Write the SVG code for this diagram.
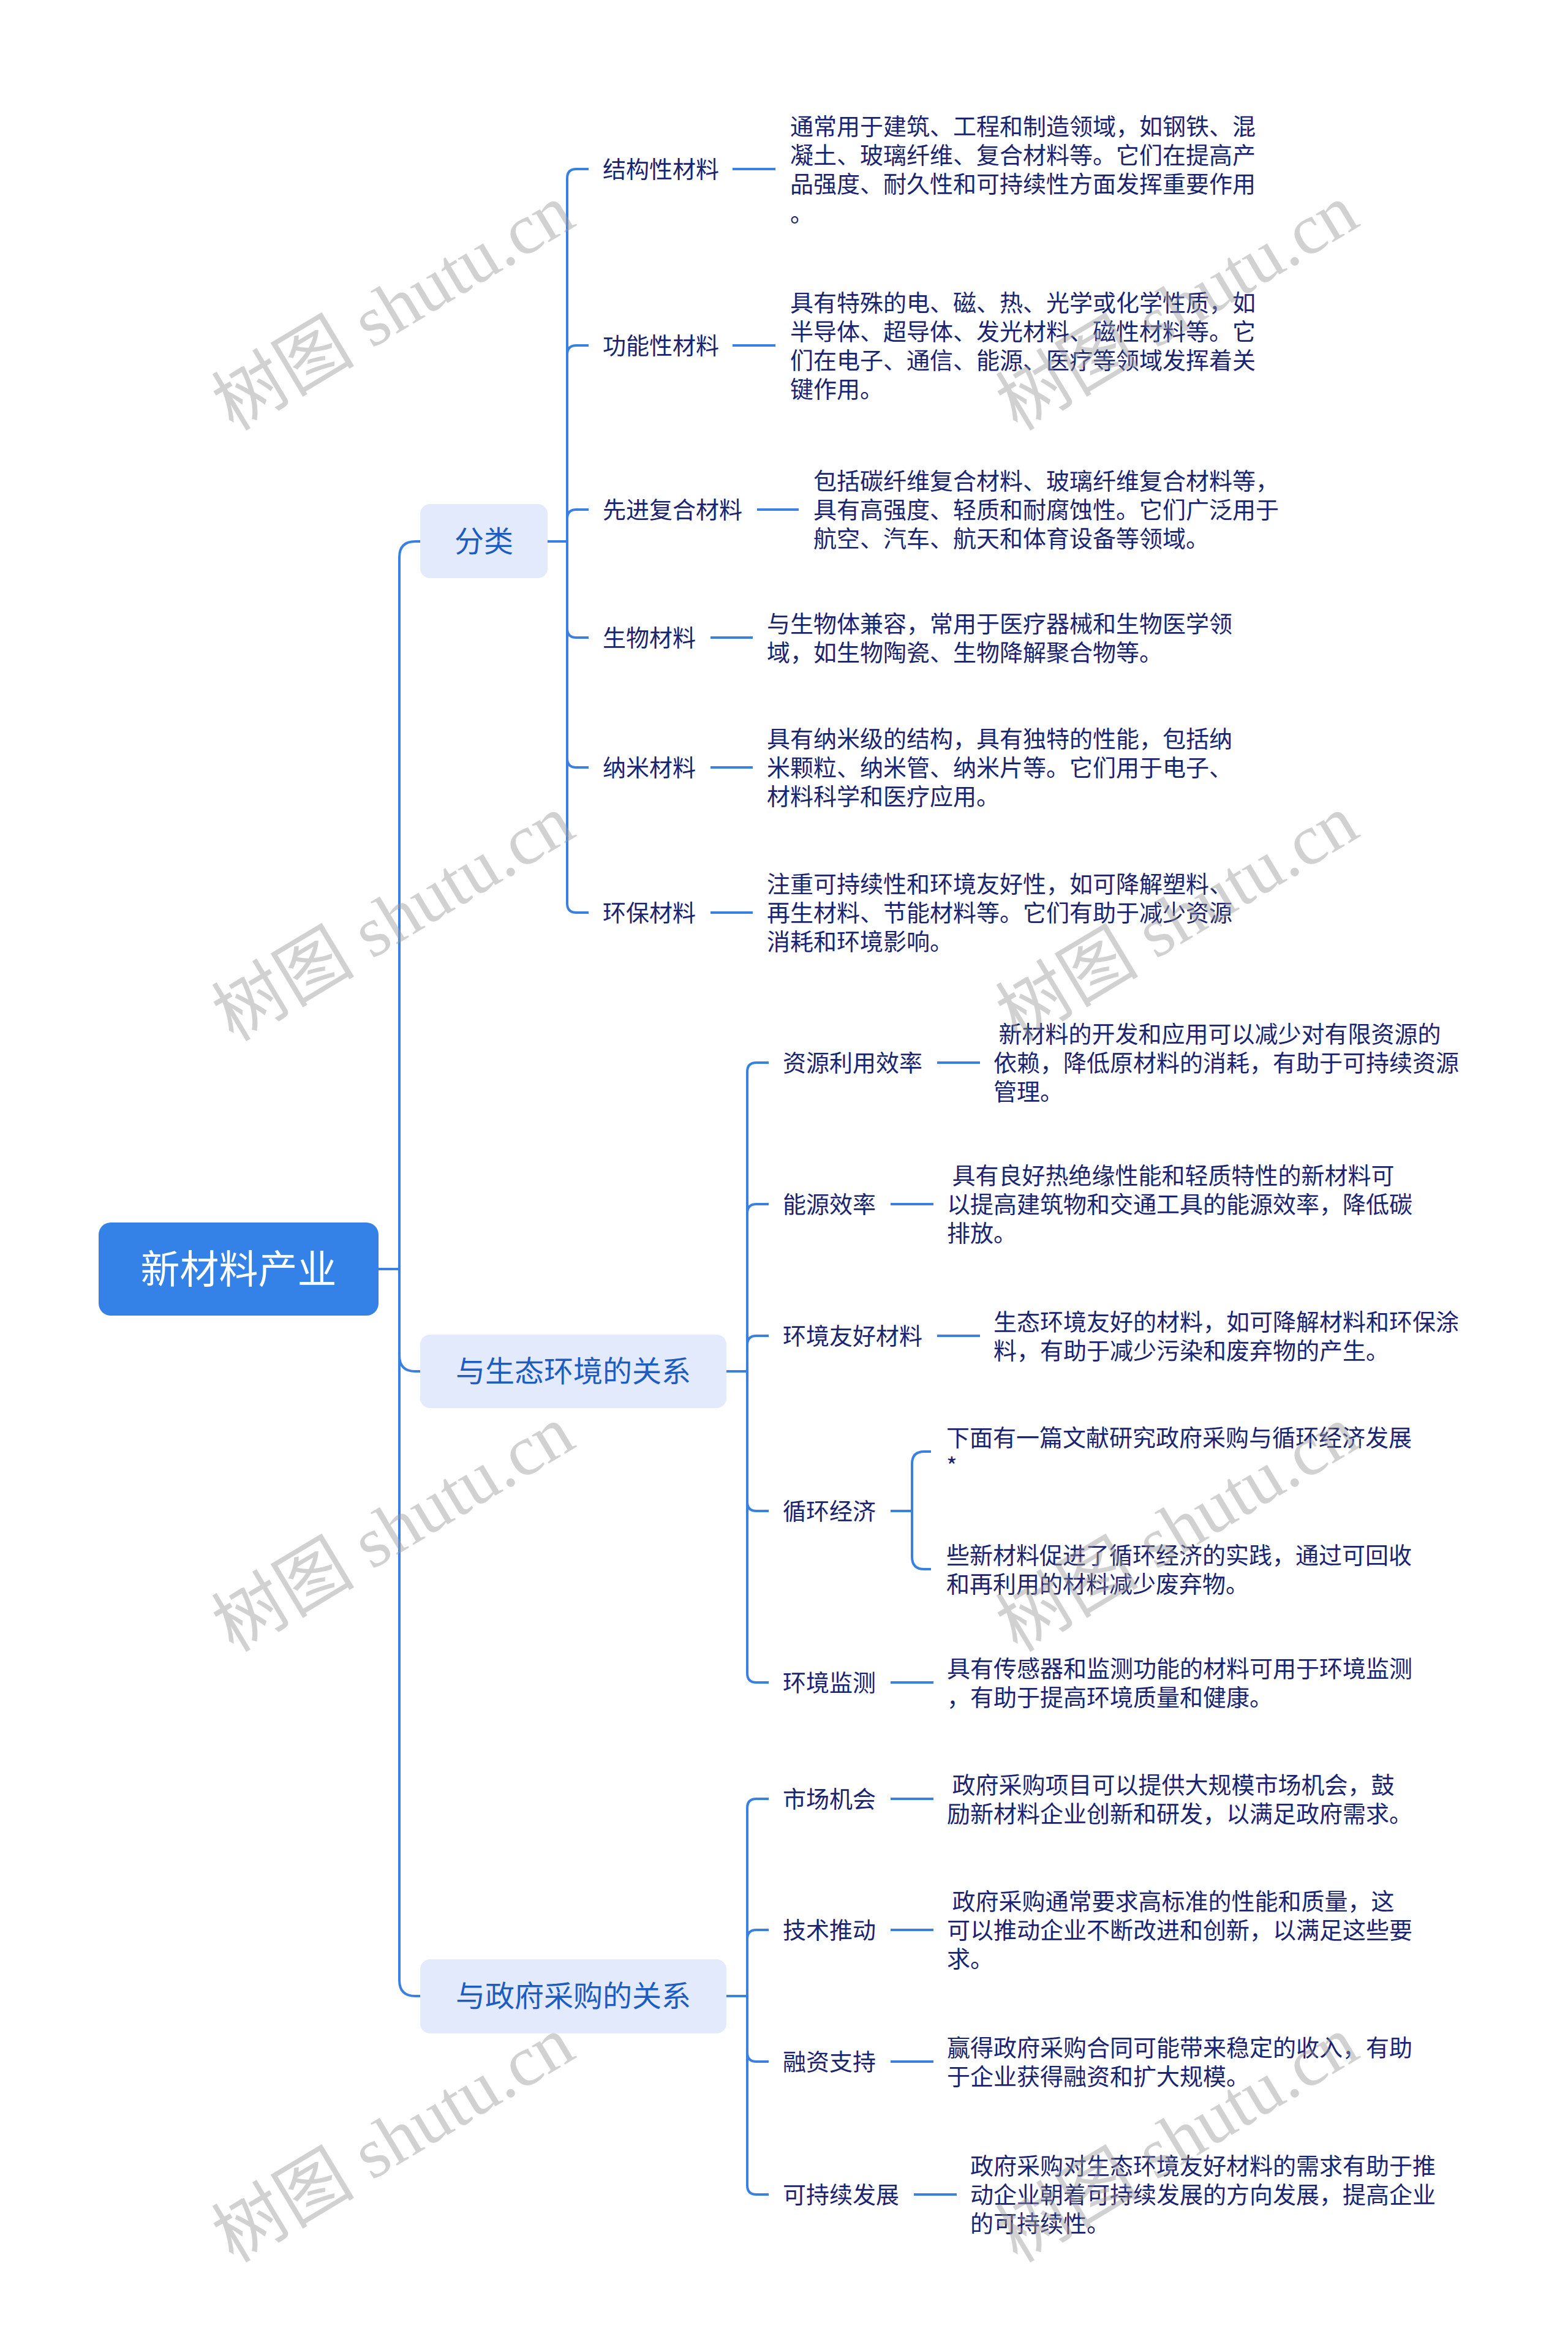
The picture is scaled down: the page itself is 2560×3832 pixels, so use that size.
<svg xmlns="http://www.w3.org/2000/svg" width="2560" height="3832" viewBox="0 0 2560 3832">
<style>
text{font-family:"Noto Sans CJK SC","Noto Sans",sans-serif}
.ln{fill:none;stroke:#3a80e3;stroke-width:4}
.lb{font-size:38px;fill:#1a2470}
.lf{font-size:38px;fill:#1a2470}
.bx{fill:#e2eafb}
.bt{font-size:48px;fill:#1d5cc0;text-anchor:middle}
.rt{font-size:64px;fill:#ffffff;text-anchor:middle}
.wm{font-family:"Liberation Serif","Noto Sans CJK SC",serif;font-size:117px;fill:#999999;fill-opacity:0.45}
</style>
<rect width="2560" height="3832" fill="#ffffff"/>
<g id="connectors">
<path class="ln" d="M618 2072 H652 V910 Q652 884 678 884 H686"/>
<path class="ln" d="M618 2072 H652 V2213 Q652 2239 678 2239 H686"/>
<path class="ln" d="M618 2072 H652 V3233 Q652 3259 678 3259 H686"/>
<path class="ln" d="M894 884 H926 V291 Q926 276 941 276 H961"/>
<path class="ln" d="M894 884 H926 V579 Q926 564 941 564 H961"/>
<path class="ln" d="M894 884 H926 V847 Q926 832 941 832 H961"/>
<path class="ln" d="M894 884 H926 V1026 Q926 1041 941 1041 H961"/>
<path class="ln" d="M894 884 H926 V1238 Q926 1253 941 1253 H961"/>
<path class="ln" d="M894 884 H926 V1475 Q926 1490 941 1490 H961"/>
<path class="ln" d="M1196 276 H1266"/>
<path class="ln" d="M1196 564 H1266"/>
<path class="ln" d="M1236 832 H1304"/>
<path class="ln" d="M1160 1041 H1229"/>
<path class="ln" d="M1160 1253 H1229"/>
<path class="ln" d="M1160 1490 H1229"/>
<path class="ln" d="M1186 2239 H1220 V1750 Q1220 1735 1235 1735 H1255"/>
<path class="ln" d="M1186 2239 H1220 V1981 Q1220 1966 1235 1966 H1255"/>
<path class="ln" d="M1186 2239 H1220 V2196 Q1220 2181 1235 2181 H1255"/>
<path class="ln" d="M1186 2239 H1220 V2452 Q1220 2467 1235 2467 H1255"/>
<path class="ln" d="M1186 2239 H1220 V2732 Q1220 2747 1235 2747 H1255"/>
<path class="ln" d="M1530 1735 H1600"/>
<path class="ln" d="M1454 1966 H1524"/>
<path class="ln" d="M1530 2181 H1600"/>
<path class="ln" d="M1454 2467 H1489 V2390 Q1489 2370 1509 2370 H1520"/>
<path class="ln" d="M1454 2467 H1489 V2542 Q1489 2562 1509 2562 H1520"/>
<path class="ln" d="M1454 2747 H1524"/>
<path class="ln" d="M1186 3259 H1220 V2952 Q1220 2937 1235 2937 H1255"/>
<path class="ln" d="M1186 3259 H1220 V3166 Q1220 3151 1235 3151 H1255"/>
<path class="ln" d="M1186 3259 H1220 V3351 Q1220 3366 1235 3366 H1255"/>
<path class="ln" d="M1186 3259 H1220 V3568 Q1220 3583 1235 3583 H1255"/>
<path class="ln" d="M1454 2937 H1524"/>
<path class="ln" d="M1454 3151 H1524"/>
<path class="ln" d="M1454 3366 H1524"/>
<path class="ln" d="M1492 3583 H1562"/>
</g>
<g id="root">
<rect x="161" y="1996" width="457" height="152" rx="20" fill="#3481e8"/>
<text class="rt" x="389.5" y="2095">新材料产业</text>
</g>
<g id="branch-fenlei">
<rect class="bx" x="686" y="823" width="208" height="121" rx="16"/>
<text class="bt" x="790" y="901">分类</text>
</g>
<g id="branch-shengtai">
<rect class="bx" x="686" y="2179" width="500" height="120" rx="16"/>
<text class="bt" x="936" y="2256">与生态环境的关系</text>
</g>
<g id="branch-zhengfu">
<rect class="bx" x="686" y="3199" width="500" height="121" rx="16"/>
<text class="bt" x="936" y="3276">与政府采购的关系</text>
</g>
<g id="n-jiegou">
<text class="lb" x="984" y="290">结构性材料</text>
<text class="lf"><tspan x="1290" y="219.5">通常用于建筑、工程和制造领域，如钢铁、混</tspan><tspan x="1290" y="266.5">凝土、玻璃纤维、复合材料等。它们在提高产</tspan><tspan x="1290" y="313.5">品强度、耐久性和可持续性方面发挥重要作用</tspan><tspan x="1290" y="362">。</tspan></text>
</g>
<g id="n-gongneng">
<text class="lb" x="984" y="578">功能性材料</text>
<text class="lf"><tspan x="1290" y="507.5">具有特殊的电、磁、热、光学或化学性质，如</tspan><tspan x="1290" y="554.5">半导体、超导体、发光材料、磁性材料等。它</tspan><tspan x="1290" y="601.5">们在电子、通信、能源、医疗等领域发挥着关</tspan><tspan x="1290" y="648.5">键作用。</tspan></text>
</g>
<g id="n-xianjin">
<text class="lb" x="984" y="846">先进复合材料</text>
<text class="lf"><tspan x="1328" y="799">包括碳纤维复合材料、玻璃纤维复合材料等，</tspan><tspan x="1328" y="846">具有高强度、轻质和耐腐蚀性。它们广泛用于</tspan><tspan x="1328" y="893">航空、汽车、航天和体育设备等领域。</tspan></text>
</g>
<g id="n-shengwu">
<text class="lb" x="984" y="1055">生物材料</text>
<text class="lf"><tspan x="1252" y="1031.5">与生物体兼容，常用于医疗器械和生物医学领</tspan><tspan x="1252" y="1078.5">域，如生物陶瓷、生物降解聚合物等。</tspan></text>
</g>
<g id="n-nami">
<text class="lb" x="984" y="1267">纳米材料</text>
<text class="lf"><tspan x="1252" y="1220">具有纳米级的结构，具有独特的性能，包括纳</tspan><tspan x="1252" y="1267">米颗粒、纳米管、纳米片等。它们用于电子、</tspan><tspan x="1252" y="1314">材料科学和医疗应用。</tspan></text>
</g>
<g id="n-huanbao">
<text class="lb" x="984" y="1504">环保材料</text>
<text class="lf"><tspan x="1252" y="1457">注重可持续性和环境友好性，如可降解塑料、</tspan><tspan x="1252" y="1504">再生材料、节能材料等。它们有助于减少资源</tspan><tspan x="1252" y="1551">消耗和环境影响。</tspan></text>
</g>
<g id="n-ziyuan">
<text class="lb" x="1278" y="1749">资源利用效率</text>
<text class="lf" xml:space="preserve"><tspan x="1622" y="1702"> 新材料的开发和应用可以减少对有限资源的</tspan><tspan x="1622" y="1749">依赖，降低原材料的消耗，有助于可持续资源</tspan><tspan x="1622" y="1796">管理。</tspan></text>
</g>
<g id="n-nengyuan">
<text class="lb" x="1278" y="1980">能源效率</text>
<text class="lf" xml:space="preserve"><tspan x="1546" y="1933"> 具有良好热绝缘性能和轻质特性的新材料可</tspan><tspan x="1546" y="1980">以提高建筑物和交通工具的能源效率，降低碳</tspan><tspan x="1546" y="2027">排放。</tspan></text>
</g>
<g id="n-youhao">
<text class="lb" x="1278" y="2195">环境友好材料</text>
<text class="lf"><tspan x="1622" y="2171.5">生态环境友好的材料，如可降解材料和环保涂</tspan><tspan x="1622" y="2218.5">料，有助于减少污染和废弃物的产生。</tspan></text>
</g>
<g id="n-xunhuan">
<text class="lb" x="1278" y="2481">循环经济</text>
</g>
<g id="n-xunhuan-a">
<text class="lf"><tspan x="1545" y="2360.5">下面有一篇文献研究政府采购与循环经济发展</tspan><tspan x="1545" y="2407.5">*</tspan></text>
</g>
<g id="n-xunhuan-b">
<text class="lf"><tspan x="1545" y="2552.5">些新材料促进了循环经济的实践，通过可回收</tspan><tspan x="1545" y="2599.5">和再利用的材料减少废弃物。</tspan></text>
</g>
<g id="n-jiance">
<text class="lb" x="1278" y="2761">环境监测</text>
<text class="lf"><tspan x="1546" y="2737.5">具有传感器和监测功能的材料可用于环境监测</tspan><tspan x="1546" y="2784.5">，有助于提高环境质量和健康。</tspan></text>
</g>
<g id="n-shichang">
<text class="lb" x="1278" y="2951">市场机会</text>
<text class="lf" xml:space="preserve"><tspan x="1546" y="2927.5"> 政府采购项目可以提供大规模市场机会，鼓</tspan><tspan x="1546" y="2974.5">励新材料企业创新和研发，以满足政府需求。</tspan></text>
</g>
<g id="n-jishu">
<text class="lb" x="1278" y="3165">技术推动</text>
<text class="lf" xml:space="preserve"><tspan x="1546" y="3118"> 政府采购通常要求高标准的性能和质量，这</tspan><tspan x="1546" y="3165">可以推动企业不断改进和创新，以满足这些要</tspan><tspan x="1546" y="3212">求。</tspan></text>
</g>
<g id="n-rongzi">
<text class="lb" x="1278" y="3380">融资支持</text>
<text class="lf"><tspan x="1546" y="3356.5">赢得政府采购合同可能带来稳定的收入，有助</tspan><tspan x="1546" y="3403.5">于企业获得融资和扩大规模。</tspan></text>
</g>
<g id="n-kechixu">
<text class="lb" x="1278" y="3597">可持续发展</text>
<text class="lf"><tspan x="1584" y="3550">政府采购对生态环境友好材料的需求有助于推</tspan><tspan x="1584" y="3597">动企业朝着可持续发展的方向发展，提高企业</tspan><tspan x="1584" y="3644">的可持续性。</tspan></text>
</g>
<g id="watermarks">
<text class="wm" transform="translate(381,705) rotate(-31)">树图 shutu.cn</text>
<text class="wm" transform="translate(381,1702) rotate(-31)">树图 shutu.cn</text>
<text class="wm" transform="translate(381,2699) rotate(-31)">树图 shutu.cn</text>
<text class="wm" transform="translate(381,3696) rotate(-31)">树图 shutu.cn</text>
<text class="wm" transform="translate(1661,705) rotate(-31)">树图 shutu.cn</text>
<text class="wm" transform="translate(1661,1702) rotate(-31)">树图 shutu.cn</text>
<text class="wm" transform="translate(1661,2699) rotate(-31)">树图 shutu.cn</text>
<text class="wm" transform="translate(1661,3696) rotate(-31)">树图 shutu.cn</text>
</g>
</svg>
